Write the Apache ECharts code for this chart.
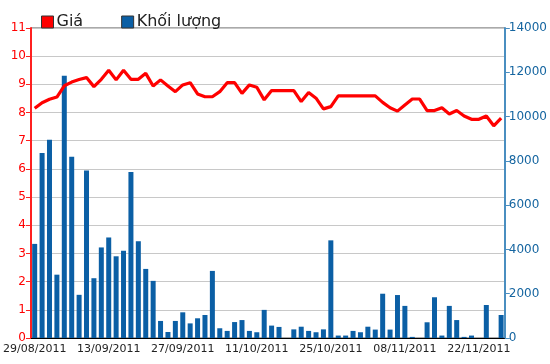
<!DOCTYPE html>
<html>
<head>
<meta charset="utf-8">
<script src="https://cdn.jsdelivr.net/npm/echarts@6/dist/echarts.min.js"></script>
<style>html,body{margin:0;padding:0;background:#fff}#c{width:550px;height:364px}</style>
</head>
<body>
<div id="c"></div>
<script>
const dates = ["29/08/2011","30/08/2011","31/08/2011","01/09/2011","05/09/2011","06/09/2011","07/09/2011","08/09/2011","09/09/2011","12/09/2011",
"13/09/2011","14/09/2011","15/09/2011","16/09/2011","19/09/2011","20/09/2011","21/09/2011","22/09/2011","23/09/2011","26/09/2011",
"27/09/2011","28/09/2011","29/09/2011","30/09/2011","03/10/2011","04/10/2011","05/10/2011","06/10/2011","07/10/2011","10/10/2011",
"11/10/2011","12/10/2011","13/10/2011","14/10/2011","17/10/2011","18/10/2011","19/10/2011","20/10/2011","21/10/2011","24/10/2011",
"25/10/2011","26/10/2011","27/10/2011","28/10/2011","31/10/2011","01/11/2011","02/11/2011","03/11/2011","04/11/2011","07/11/2011",
"08/11/2011","09/11/2011","10/11/2011","11/11/2011","14/11/2011","15/11/2011","16/11/2011","17/11/2011","18/11/2011","21/11/2011",
"22/11/2011","23/11/2011","24/11/2011","25/11/2011"];
const price = [8.15,8.35,8.47,8.55,8.95,9.08,9.17,9.24,8.92,9.18,
9.5,9.16,9.5,9.18,9.18,9.39,8.94,9.16,8.94,8.74,
8.98,9.06,8.66,8.56,8.56,8.74,9.06,9.06,8.68,8.98,
8.9,8.45,8.78,8.78,8.78,8.78,8.39,8.71,8.51,8.13,
8.21,8.59,8.59,8.59,8.59,8.59,8.59,8.36,8.17,8.05,
8.27,8.48,8.48,8.07,8.07,8.17,7.95,8.07,7.88,7.76,
7.76,7.88,7.53,7.8];
const volume = [4250,8360,8950,2860,11840,8180,1950,7560,2700,4090,
4540,3690,3940,7500,4370,3120,2580,770,270,770,
1160,660,890,1040,3030,440,320,720,810,320,
260,1270,560,500,0,390,510,320,260,390,
4410,110,110,320,260,510,380,2000,380,1940,
1450,50,0,710,1840,110,1450,810,50,110,
0,1490,0,1040];
const tickDates = ["29/08/2011","13/09/2011","27/09/2011","11/10/2011","25/10/2011","08/11/2011","22/11/2011"];

const chart = echarts.init(document.getElementById('c'), null, {renderer:'canvas'});
const FONT = 'DejaVu Sans';
chart.setOption({
  animation:false,
  textStyle:{fontFamily:FONT},
  legend:{
    left:36, top:9, itemWidth:12, itemHeight:12, itemGap:38,
    icon:'rect',
    textStyle:{fontSize:16, color:'#222', fontFamily:FONT, padding:[0,0,0,-2]},
    data:[{name:'Giá', itemStyle:{color:'#ff0000', borderColor:'#333', borderWidth:1}},
          {name:'Khối lượng', itemStyle:{color:'#0b5fa5', borderColor:'#333', borderWidth:1}}]
  },
  grid:{left:29, right:45, top:28, bottom:26, show:true, borderColor:'#555', borderWidth:1},
  xAxis:{
    type:'category', data:dates, boundaryGap:true,
    axisLine:{lineStyle:{color:'#000', width:1}},
    axisTick:{alignWithLabel:true, length:5, lineStyle:{color:'#000'},
      interval:(i,v)=>tickDates.indexOf(v)>=0},
    axisLabel:{color:'#222', fontSize:11, fontFamily:FONT, margin:6,
      interval:(i,v)=>tickDates.indexOf(v)>=0}
  },
  yAxis:[
    {type:'value', min:0, max:11, interval:1, position:'left',
     axisLine:{show:true, lineStyle:{color:'#ff2020', width:2}},
     axisTick:{show:true, length:5, lineStyle:{color:'#ff2020'}},
     axisLabel:{color:'#ff0000', fontSize:12, fontFamily:FONT, margin:5},
     splitLine:{show:true, lineStyle:{color:'#c8c8c8', width:1}}},
    {type:'value', min:0, max:14000, interval:2000, position:'right',
     axisLine:{show:true, lineStyle:{color:'#4a8ec0', width:2}},
     axisTick:{show:true, length:5, lineStyle:{color:'#4a8ec0'}},
     axisLabel:{color:'#1565a0', fontSize:12, fontFamily:FONT, margin:4,
       formatter:(v)=>String(v)},
     splitLine:{show:false}}
  ],
  series:[
    {name:'Khối lượng', type:'bar', yAxisIndex:1, data:volume, barWidth:5,
     itemStyle:{color:'#0b5fa5'}, z:2},
    {name:'Giá', type:'line', yAxisIndex:0, data:price, symbol:'none',
     lineStyle:{color:'#ff0000', width:3.2}, itemStyle:{color:'#ff0000'}, z:3}
  ]
});
</script>
</body>
</html>
